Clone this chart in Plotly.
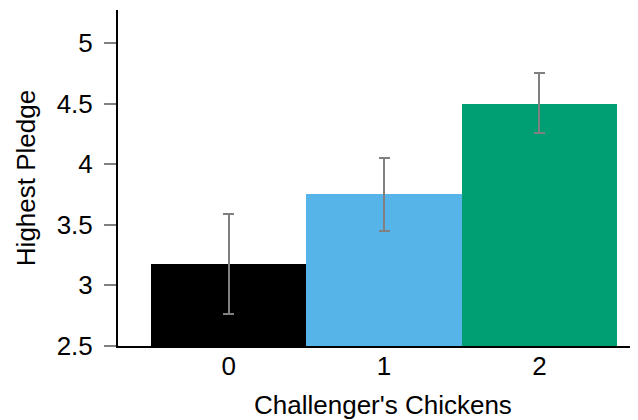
import plotly.graph_objects as go

categories = [0, 1, 2]
tick_labels = ["0", "1", "2"]
means = [3.175, 3.75, 4.50]
err_plus = [0.41, 0.30, 0.25]
err_minus = [0.41, 0.30, 0.245]
colors = ["#000000", "#56B4E9", "#009E73"]

y_ticks = [2.5, 3, 3.5, 4, 4.5, 5]
y_tick_text = ["2.5", "3", "3.5", "4", "4.5", "5"]

FONT = "Liberation Sans, Arial, sans-serif"

fig = go.Figure()
fig.add_trace(go.Bar(
    x=categories,
    y=[m - 2.5 for m in means],
    base=2.5,
    width=1.0,
    marker=dict(color=colors, line=dict(width=0)),
    error_y=dict(type="data", symmetric=False, array=err_plus, arrayminus=err_minus,
                 color="#808080", thickness=2, width=5.5),
    showlegend=False,
))

# page body adds an 8px offset; figure sized to fit the 638x420 window
OFF = 8
W, H = 638 - OFF, 420 - OFF
ml, mr, mt, mb = 118 - OFF, 0, 10 - OFF, 74

fig.update_layout(
    width=W, height=H,
    margin=dict(l=ml, r=mr, t=mt, b=mb, pad=0),
    paper_bgcolor="white", plot_bgcolor="white",
    font=dict(family=FONT, size=26, color="black"),
    bargap=0,
    xaxis=dict(
        range=[-0.713, 2.635],
        tickvals=categories, ticktext=tick_labels,
        ticks="", showgrid=False, zeroline=False,
        showline=True, linecolor="black", linewidth=2,
        tickfont=dict(size=26, family=FONT),
        ticklabelstandoff=-4,
    ),
    yaxis=dict(
        range=[2.5, 5.272],
        tickvals=y_ticks, ticktext=y_tick_text,
        ticks="outside", ticklen=12, tickwidth=1.5, tickcolor="#808080",
        showgrid=False, zeroline=False,
        showline=True, linecolor="black", linewidth=2,
        tickfont=dict(size=26, family=FONT),
        ticklabelstandoff=6,
        title=dict(text="Highest Pledge", font=dict(size=26, family=FONT), standoff=14),
    ),
    annotations=[dict(
        text="Challenger's Chickens",
        xref="paper", yref="paper",
        x=(383.4 - 118) / (638 - 118), y=(346 - 388) / (346 - 10),
        xanchor="center", yanchor="top", showarrow=False,
        font=dict(size=26, family=FONT, color="black"),
    )],
)

fig.write_html("out.html")
